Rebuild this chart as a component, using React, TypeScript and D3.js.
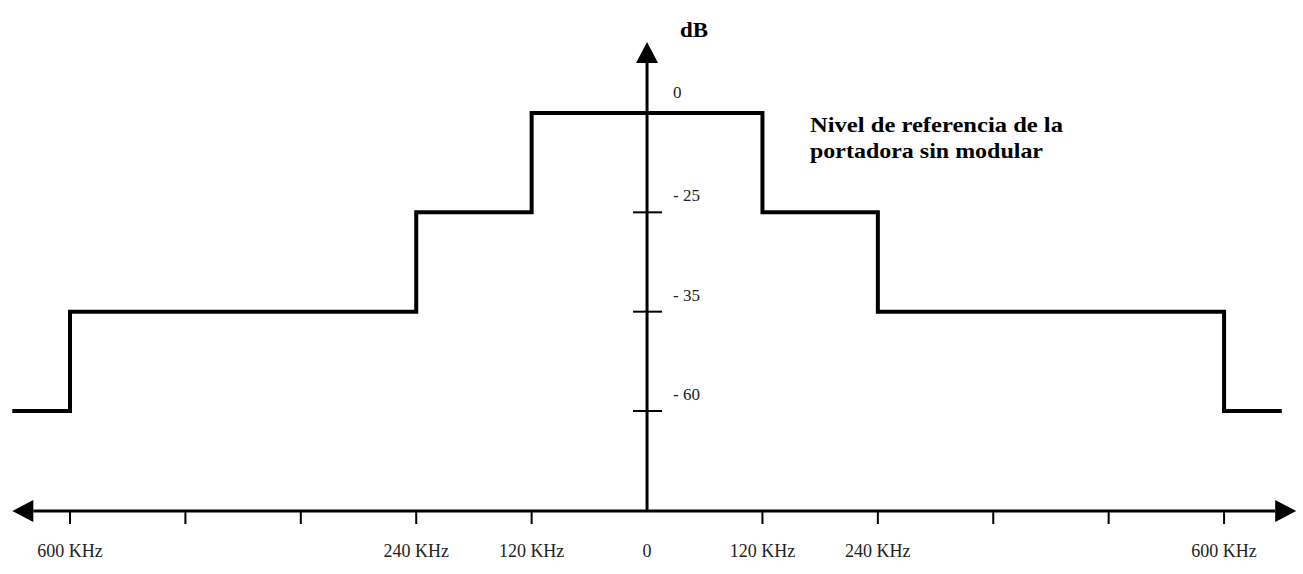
import * as d3 from 'd3';

const WIDTH = 1303;
const HEIGHT = 574;
const FONT = '"Liberation Serif", "Times New Roman", serif';

// spectrum mask: step breakpoints (KHz) and the level reached after each one (dB)
const maskFreqs = [-660, -600, -240, -120, 120, 240, 600, 660];
const maskLevels = [-60, -35, -25, 0, -25, -35, -60, -60];

// y axis levels (equally spaced on the drawing, not linear in dB)
const levelDomain = [0, -25, -35, -60];
const levelLabels = ['0', '- 25', '- 35', '- 60'];
const levelTicks = [-25, -35, -60];

// x axis ticks every 120 KHz, labels only on some
const freqTicks = [-600, -480, -360, -240, -120, 120, 240, 360, 480, 600];
const freqLabelValues = [-600, -240, -120, 0, 120, 240, 600];
const freqLabels = ['600 KHz', '240 KHz', '120 KHz', '0', '120 KHz', '240 KHz', '600 KHz'];

const AXIS_Y = 511;
const AXIS_TOP = 42;

export default function App() {
    const xScale = d3.scaleLinear().domain([-660, 675]).range([12.3, 1296.2]);
    const yScale = d3.scalePoint<number>().domain(levelDomain).range([113, 411]);

    const x0 = xScale(0);
    const [xMin, xMax] = xScale.range();

    const points: [number, number][] = maskFreqs.map((f, i) => [f, maskLevels[i]]);
    const stepLine = d3
        .line<[number, number]>()
        .x((d) => xScale(d[0]))
        .y((d) => yScale(d[1]) ?? 0)
        .curve(d3.curveStepAfter);

    const AH = 21; // arrow head length
    const AW = 11; // arrow head half width

    return (
        <svg
            width={WIDTH}
            height={HEIGHT}
            style={{ position: 'absolute', left: 0, top: 0, background: '#fff' }}
        >
            {/* x axis */}
            <line x1={xMin + AH} x2={xMax - AH} y1={AXIS_Y} y2={AXIS_Y} stroke="#000" strokeWidth={3} />
            <path d={`M${xMin},${AXIS_Y} L${xMin + AH},${AXIS_Y - AW} L${xMin + AH},${AXIS_Y + AW} Z`} fill="#000" />
            <path d={`M${xMax},${AXIS_Y} L${xMax - AH},${AXIS_Y - AW} L${xMax - AH},${AXIS_Y + AW} Z`} fill="#000" />
            {freqTicks.map((f) => (
                <line key={f} x1={xScale(f)} x2={xScale(f)} y1={AXIS_Y} y2={AXIS_Y + 13} stroke="#000" strokeWidth={2} />
            ))}
            {freqLabelValues.map((f, i) => (
                <text
                    key={i}
                    x={xScale(f)}
                    y={557}
                    textAnchor="middle"
                    fontFamily={FONT}
                    fontSize={18}
                    fill="#222"
                >
                    {freqLabels[i]}
                </text>
            ))}

            {/* y axis */}
            <line x1={x0} x2={x0} y1={AXIS_Y} y2={AXIS_TOP + AH} stroke="#000" strokeWidth={3} />
            <path d={`M${x0},${AXIS_TOP} L${x0 - AW},${AXIS_TOP + AH} L${x0 + AW},${AXIS_TOP + AH} Z`} fill="#000" />
            {levelTicks.map((v) => (
                <line key={v} x1={x0 - 14} x2={x0 + 15} y1={yScale(v)} y2={yScale(v)} stroke="#000" strokeWidth={2} />
            ))}
            {levelDomain.map((v, i) => (
                <text
                    key={v}
                    x={x0 + 26}
                    y={(yScale(v) ?? 0) - (v === 0 ? 15 : 11)}
                    fontFamily={FONT}
                    fontSize={17}
                    fill="#222"
                >
                    {levelLabels[i]}
                </text>
            ))}
            <text x={680} y={37} fontFamily={FONT} fontSize={21} fontWeight="bold" textLength={28} lengthAdjust="spacingAndGlyphs">
                dB
            </text>

            {/* mask */}
            <path d={stepLine(points) ?? ''} fill="none" stroke="#000" strokeWidth={4} />

            <text x={810} y={132} fontFamily={FONT} fontSize={21} fontWeight="bold" textLength={253} lengthAdjust="spacingAndGlyphs">
                Nivel de referencia de la
            </text>
            <text x={810} y={158} fontFamily={FONT} fontSize={21} fontWeight="bold" textLength={233} lengthAdjust="spacingAndGlyphs">
                portadora sin modular
            </text>
        </svg>
    );
}
